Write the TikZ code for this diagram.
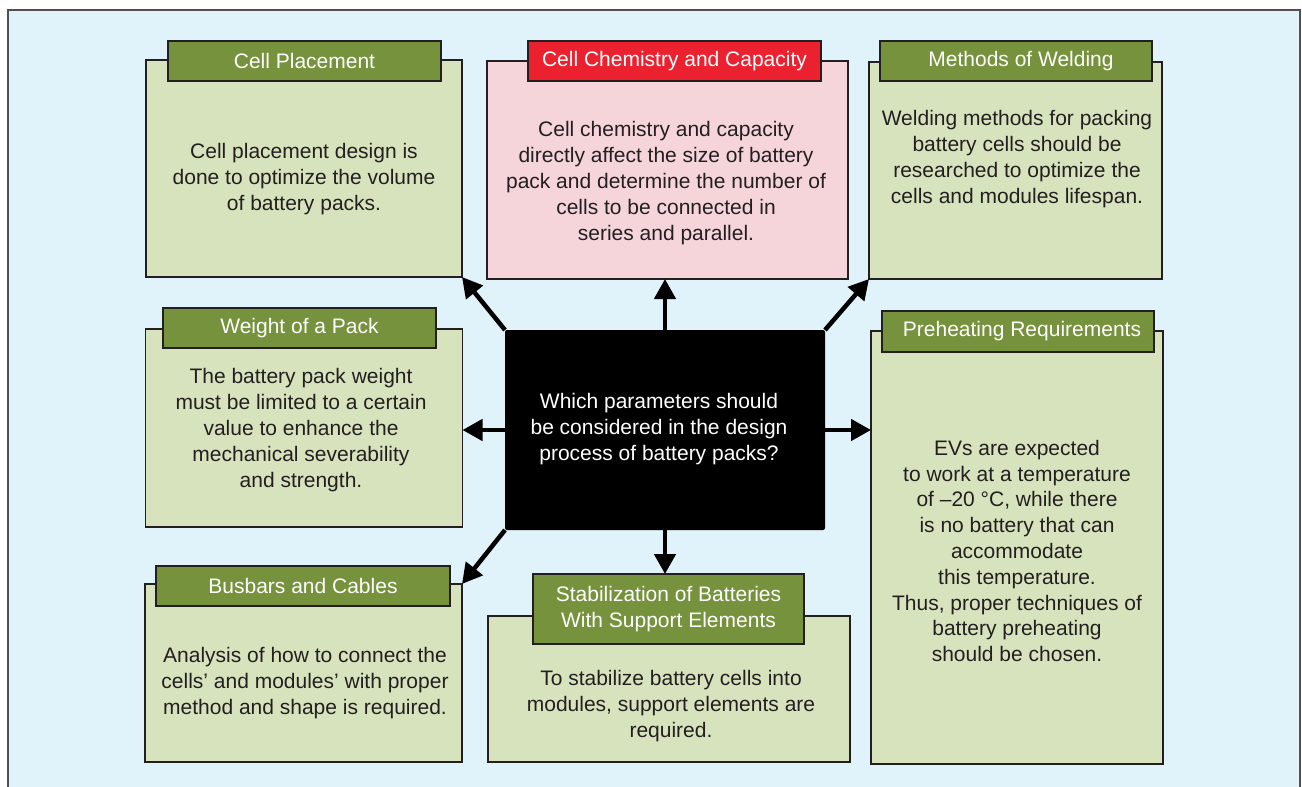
\documentclass[tikz,border=0pt]{standalone}
\usepackage{fontspec}
\setmainfont{Liberation Sans}
\usetikzlibrary{arrows.meta}
\definecolor{bgblue}{HTML}{E0F2FA}
\definecolor{framec}{HTML}{505050}
\definecolor{linec}{HTML}{231F20}
\definecolor{tabgreen}{HTML}{76923C}
\definecolor{bodygreen}{HTML}{D7E3BD}
\definecolor{tabred}{HTML}{EC2130}
\definecolor{bodypink}{HTML}{F5D5DA}
\definecolor{txt}{HTML}{231F20}
\tikzset{
  bodybox/.style={rectangle, draw=linec, line width=1.4pt, fill=bodygreen, inner sep=0pt, outer sep=0pt},
  tabbox/.style={rectangle, draw=linec, line width=1.4pt, fill=tabgreen, inner sep=0pt, outer sep=0pt,
     text=white, align=center, font=\fontsize{21}{25.5}\selectfont},
  bodytext/.style={align=center, text=txt, inner sep=0pt, font=\fontsize{21}{25.8}\selectfont},
  centerbox/.style={rectangle, fill=black, rounded corners=2pt, inner sep=0pt, outer sep=0pt},
  centertext/.style={align=center, text=white, inner sep=0pt, font=\fontsize{21}{25.8}\selectfont},
  arr/.style={line width=4.5pt, draw=black, -{Triangle[length=20pt,width=21pt]}}
}
\begin{document}
\begin{tikzpicture}[x=1pt,y=-1pt]
\useasboundingbox (0,0) rectangle (1302,787);
\fill[white] (0,0) rectangle (1302,787);
\fill[bgblue] (8,10) rectangle (1300,790);
\draw[framec, line width=1.5pt] (8,795) -- (8,10) -- (1300,10) -- (1300,795);

% Cell Placement
\node[bodybox, minimum width=316pt, minimum height=217pt] (cp) at (304,168.5) {};
\node[tabbox, minimum width=273pt, minimum height=40pt] (cpt) at (304.5,61) {Cell Placement};
\node[bodytext] (cpx) at (304,179) {Cell placement design is\\done to optimize the volume\\of battery packs.};

% Cell Chemistry
\node[bodybox, fill=bodypink, minimum width=361pt, minimum height=218pt] (ch) at (667.5,170) {};
\node[tabbox, fill=tabred, minimum width=293pt, minimum height=40pt] (cht) at (674.5,61) {Cell Chemistry and Capacity};
\node[bodytext] (chx) at (666,183) {Cell chemistry and capacity\\directly affect the size of battery\\pack and determine the number of\\cells to be connected in\\series and parallel.};

% Methods of Welding
\node[bodybox, minimum width=293pt, minimum height=217pt] (mw) at (1015.5,170.5) {};
\node[tabbox, minimum width=272pt, minimum height=40pt] (mwt) at (1016,61) {\hspace*{10pt}Methods of Welding};
\node[bodytext] (mwx) at (1017,159) {Welding methods for packing\\battery cells should be\\researched to optimize the\\cells and modules lifespan.};

% Weight of a Pack
\node[bodybox, minimum width=317pt, minimum height=198pt] (wt) at (304,428) {};
\node[tabbox, minimum width=273pt, minimum height=40pt] (wtt) at (299.5,328) {Weight of a Pack};
\node[bodytext] (wtx) at (301,430) {The battery pack weight\\must be limited to a certain\\value to enhance the\\mechanical severability\\and strength.};

% Preheating Requirements
\node[bodybox, minimum width=292pt, minimum height=433pt] (ph) at (1017,547.5) {};
\node[tabbox, minimum width=272pt, minimum height=41pt] (pht) at (1018,331.5) {\hspace*{8pt}Preheating Requirements};
\node[bodytext] (phx) at (1017,551) {EVs are expected\\to work at a temperature\\of –20 °C, while there\\is no battery that can\\accommodate\\this temperature.\\Thus, proper techniques of\\battery preheating\\should be chosen.};

% Busbars and Cables
\node[bodybox, minimum width=317pt, minimum height=178pt] (bb) at (303.5,673) {};
\node[tabbox, minimum width=294pt, minimum height=40pt] (bbt) at (303,586) {Busbars and Cables};
\node[bodytext] (bbx) at (305,683) {Analysis of how to connect the\\cells’ and modules’ with proper\\method and shape is required.};

% Stabilization
\node[bodybox, minimum width=362pt, minimum height=146pt] (st) at (669,689) {};
\node[tabbox, minimum width=271pt, minimum height=70pt] (stt) at (668.5,609) {Stabilization of Batteries\\With Support Elements};
\node[bodytext] (stx) at (671,706) {To stabilize battery cells into\\modules, support elements are\\required.};

% Central question
\node[centerbox, minimum width=320pt, minimum height=200pt] (q) at (665,430) {};
\node[centertext] (qx) at (659,429) {Which parameters should\\be considered in the design\\process of battery packs?};

% Arrows
\draw[arr] (q.north west) -- (cp.south east);
\draw[arr] (q.north) -- (q.north |- ch.south);
\draw[arr] (q.north east) -- (mw.south west);
\draw[arr] (q.west) -- (q.west -| wt.east);
\draw[arr] (q.east) -- (q.east -| ph.west);
\draw[arr] (q.south west) -- (bb.north east);
\draw[arr] (q.south) -- (q.south |- stt.north);
\end{tikzpicture}
\end{document}
